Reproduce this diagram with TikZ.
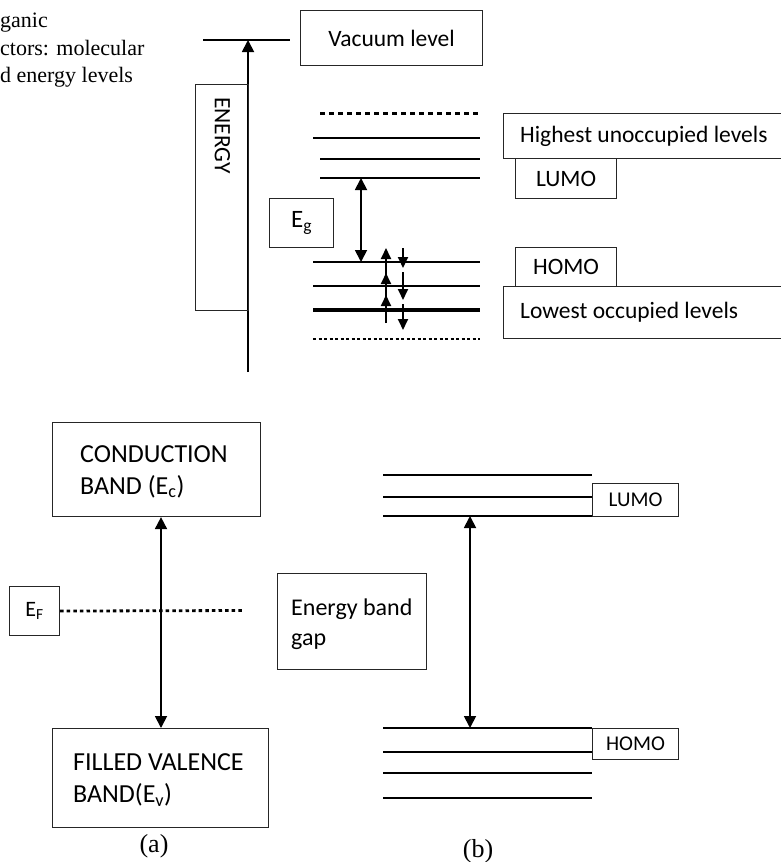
\documentclass[tikz,border=0pt]{standalone}
\usepackage{fontspec}
\setmainfont{Carlito}
\newfontfamily\capfont{Liberation Serif}
\usetikzlibrary{arrows.meta,calc}

\begin{document}
\begin{tikzpicture}[x=1pt,y=-1pt,
  box/.style={draw=black!85, line width=1.1pt, inner sep=0pt, anchor=north west},
  inbox/.style={anchor=west, inner sep=0pt, align=left},
  txtA/.style={font=\fontsize{23.5}{28}\selectfont},
  txtB/.style={font=\fontsize{26}{32}\selectfont},
  txtS/.style={font=\fontsize{21}{25}\selectfont},
  lvl/.style={line width=1.6pt},
  lvlthick/.style={line width=3.5pt},
  bigtip/.style={line width=1.8pt},
  uparr/.style={bigtip, -{Triangle[length=12pt,width=12pt]}},
  dblarr/.style={bigtip, {Triangle[length=12pt,width=12pt]}-{Triangle[length=12pt,width=12pt]}},
  smallarr/.style={line width=1.8pt, -{Triangle[length=11pt,width=10pt]}},
]
\useasboundingbox (0,0) rectangle (780,862);

% caption fragment at the top left
\node[anchor=north west, inner sep=0pt, align=left,
      font=\capfont\fontsize{22}{27.5}\selectfont] (cap) at (0,13)
  {ganic\\ctors: molecular\\d energy levels};

% ---------------- upper diagram: energy scale ----------------
\coordinate (axbot) at (248,372);
\coordinate (axtop) at (248,40);
\coordinate (vacL) at (203,40);
\coordinate (vacR) at (290,40);
\draw[line width=1.1pt] (vacL) -- (vacR);
\draw[uparr] (axbot) -- (axtop);

\node[box, minimum width=182pt, minimum height=55pt, txtA] (vac) at (300,10) {Vacuum level};
\node[box, minimum width=53pt, minimum height=226pt] (ebox) at (195,84) {};
\node[rotate=-90, anchor=west, inner sep=0pt, txtA] (elabel) at (222.5,97) {ENERGY};

% molecular levels
\draw[line width=3pt, dash pattern=on 5pt off 4pt] (320,113) -- (480,113);
\draw[line width=2pt] (313,138) -- (480,138);
\draw[line width=1.8pt] (320,159) -- (480,159);
\draw[lvl] (320,178) -- (480,178);
\draw[lvl] (313,262) -- (480,262);
\draw[lvl] (313,286) -- (480,286);
\draw[lvlthick] (313,310) -- (480,310);
\draw[line width=1.3pt, dash pattern=on 3pt off 2.5pt] (313,339) -- (480,339);

\node[box, minimum width=64pt, minimum height=49pt, font=\fontsize{25}{28}\selectfont] (eg) at (269,198) {E\textsubscript{g}};
\coordinate (lumoT) at (361,178);
\coordinate (homoT) at (361,262);
\draw[dblarr] (lumoT) -- (homoT);

% electron transitions
\coordinate (u0) at (386,323);
\coordinate (u1) at (386,295);
\coordinate (u1b) at (386,300);
\coordinate (u2) at (386,273);
\coordinate (u2b) at (386,278);
\coordinate (u3) at (386,248);
\draw[smallarr] (u0) -- (u1);
\draw[smallarr] (u1b) -- (u2);
\draw[smallarr] (u2b) -- (u3);
\coordinate (d0) at (403,248);
\coordinate (d1) at (403,268);
\coordinate (d1b) at (403,272);
\coordinate (d2) at (403,300);
\coordinate (d2b) at (403,304);
\coordinate (d3) at (403,330);
\draw[smallarr] (d0) -- (d1);
\draw[smallarr] (d1b) -- (d2);
\draw[smallarr] (d2b) -- (d3);

\node[box, minimum width=300pt, minimum height=45pt] (hul) at (503,113) {};
\node[inbox, txtA] (hultext) at ([xshift=17pt]hul.west) {Highest unoccupied levels};
\node[box, minimum width=101pt, minimum height=40pt, txtA] (lumo1) at (515,158) {LUMO};
\node[box, minimum width=101pt, minimum height=39pt, txtA] (homo1) at (515,247) {HOMO};
\node[box, minimum width=300pt, minimum height=52pt] (lol) at (503,286) {};
\node[inbox, txtA] (loltext) at ([xshift=17pt]lol.west) {Lowest occupied levels};

% ---------------- (a) inorganic semiconductor ----------------
\node[box, minimum width=208pt, minimum height=94pt] (cb) at (52,422) {};
\node[inbox, txtB] (cbtext) at ([xshift=28pt,yshift=-2pt]cb.west) {CONDUCTION\\BAND (E\textsubscript{c})};
\node[box, minimum width=216pt, minimum height=99pt] (vb) at (52,728) {};
\node[inbox, txtB] (vbtext) at ([xshift=21pt,yshift=-2pt]vb.west) {FILLED VALENCE\\BAND(E\textsubscript{v})};
\coordinate (ax) at (161,0);
\draw[dblarr] (cb.south -| ax) -- (vb.north -| ax);

\node[box, minimum width=50pt, minimum height=49pt, font=\fontsize{22}{26}\selectfont] (ef) at (9,586) {E\textsubscript{F}};
\coordinate (efend) at (242,610.5);
\draw[line width=2.8pt, dash pattern=on 3.5pt off 3.1pt] (ef.east) -- (efend);

\node[anchor=center, font=\capfont\fontsize{26}{30}\selectfont] (capa) at (154,846) {(a)};

% ---------------- (b) organic semiconductor ----------------
\node[box, minimum width=149pt, minimum height=96pt] (gap) at (277,573) {};
\node[inbox, font=\fontsize{24}{30}\selectfont] (gaptext) at ([xshift=14pt,yshift=-3pt]gap.west) {Energy band\\gap};

\draw[lvl] (383,475) -- (592,475);
\draw[lvl] (383,497) -- (592,497);
\draw[lvl] (383,516) -- (592,516);
\draw[lvl] (383,728) -- (592,728);
\draw[lvl] (383,752) -- (592,752);
\draw[lvl] (383,773) -- (592,773);
\draw[lvl] (383,798) -- (592,798);

\node[box, minimum width=86pt, minimum height=33pt, txtS] (lumo2) at (592,483) {LUMO};
\node[box, minimum width=86pt, minimum height=31pt, txtS] (homo2) at (592,728) {HOMO};

\coordinate (lumoB) at (470,516);
\coordinate (homoB) at (470,728);
\draw[dblarr] (lumoB) -- (homoB);

\node[anchor=center, font=\capfont\fontsize{26}{30}\selectfont] (capb) at (478,851) {(b)};
\end{tikzpicture}
\end{document}
